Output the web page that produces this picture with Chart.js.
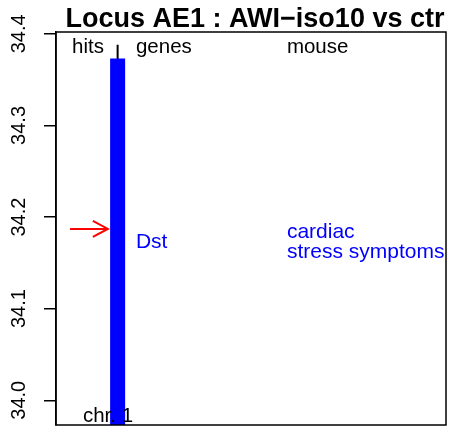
<!DOCTYPE html>
<html>
<head>
<meta charset="utf-8">
<script src="https://cdn.jsdelivr.net/npm/chart.js@4.4.1/dist/chart.umd.min.js"></script>
<style>
  html, body { margin: 0; padding: 0; background: #fff; }
  #locusChart { display: block; }
</style>
</head>
<body>
<canvas id="locusChart" width="451" height="429"></canvas>
<script>
// chart data
const titleText = 'Locus AE1 : AWI\u2212iso10 vs ctr';
const yTicks = [34.0, 34.1, 34.2, 34.3, 34.4];
const yRange = [33.973, 34.402];
const columnHeaders = ['hits', 'genes', 'mouse'];
const chromosomeLabel = 'chr. 1';
const locusSpan = [33.96, 34.388];
const hitPositions = [34.187];
const geneNames = ['Dst'];
const geneStarts = [33.96];
const geneEnds = [34.373];
const mousePhenotypes = [['cardiac', 'stress symptoms']];

// x positions of the columns (0..1 across the plot box)
const colX = { hits: 0.041, locus: 0.158, genes: 0.205, mouse: 0.592, chr: 0.069, arrowFrom: 0.036, arrowTo: 0.133 };
const FONT = '"Liberation Sans", Arial, sans-serif';

const geneDatasets = geneNames.map((name, i) => ({
  label: name,
  data: [{ x: colX.locus, y: geneStarts[i] }, { x: colX.locus, y: geneEnds[i] }],
  borderColor: '#0000ff',
  borderWidth: 15,
  borderCapStyle: 'butt',
  pointRadius: 0,
  order: 0
}));

const locusDataset = {
  label: chromosomeLabel,
  data: [{ x: colX.locus, y: locusSpan[0] }, { x: colX.locus, y: locusSpan[1] }],
  borderColor: '#000',
  borderWidth: 2,
  borderCapStyle: 'butt',
  pointRadius: 0,
  order: 1
};

const annotations = {
  id: 'annotations',
  afterDatasetsDraw(chart) {
    const { ctx, scales: { x, y }, chartArea } = chart;
    ctx.save();

    // plot box
    ctx.strokeStyle = '#000';
    ctx.lineWidth = 1.5;
    ctx.strokeRect(chartArea.left, chartArea.top, chartArea.right - chartArea.left, chartArea.bottom - chartArea.top);

    // chromosome label at the bottom, over the gene bar
    ctx.fillStyle = '#000';
    ctx.font = '20.5px ' + FONT;
    ctx.textBaseline = 'alphabetic';
    ctx.fillText(chromosomeLabel, x.getPixelForValue(colX.chr), chartArea.bottom - 3);

    // title
    ctx.font = 'bold 27px ' + FONT;
    ctx.textAlign = 'center';
    ctx.fillText(titleText, (chartArea.left + chartArea.right) / 2 + 4, 27);

    // y tick labels, rotated
    ctx.font = '20px ' + FONT;
    yTicks.forEach(v => {
      ctx.save();
      ctx.translate(25, y.getPixelForValue(v));
      ctx.rotate(-Math.PI / 2);
      ctx.textAlign = 'center';
      ctx.fillText(v.toFixed(1), 0, 0);
      ctx.restore();
    });

    // column headers
    ctx.textAlign = 'left';
    ctx.font = '20.5px ' + FONT;
    const headerX = [colX.hits, colX.genes, colX.mouse];
    columnHeaders.forEach((h, i) => ctx.fillText(h, x.getPixelForValue(headerX[i]), chartArea.top + 21));

    // hits: red arrows
    ctx.strokeStyle = '#ff0000';
    ctx.lineWidth = 2;
    hitPositions.forEach(v => {
      const py = y.getPixelForValue(v);
      const x0 = x.getPixelForValue(colX.arrowFrom);
      const x1 = x.getPixelForValue(colX.arrowTo);
      ctx.beginPath();
      ctx.moveTo(x0, py);
      ctx.lineTo(x1, py);
      ctx.moveTo(x1 - 15, py - 8);
      ctx.lineTo(x1, py);
      ctx.lineTo(x1 - 15, py + 8);
      ctx.stroke();
    });

    // gene names and mouse phenotypes at gene midpoints
    ctx.fillStyle = '#0000ff';
    ctx.font = '21px ' + FONT;
    ctx.textBaseline = 'middle';
    geneNames.forEach((name, i) => {
      const lo = Math.max(geneStarts[i], yRange[0]);
      const hi = Math.min(geneEnds[i], yRange[1]);
      const py = y.getPixelForValue((lo + hi) / 2);
      ctx.fillText(name, x.getPixelForValue(colX.genes), py);
      const lines = mousePhenotypes[i];
      const lh = 20;
      lines.forEach((t, k) => {
        ctx.fillText(t, x.getPixelForValue(colX.mouse), py + (k - (lines.length - 1) / 2) * lh);
      });
    });

    ctx.restore();
  }
};

new Chart(document.getElementById('locusChart'), {
  type: 'line',
  data: { datasets: [...geneDatasets, locusDataset] },
  options: {
    responsive: false,
    animation: false,
    layout: { padding: { top: 32, right: 5, bottom: 4, left: 0 } },
    plugins: { legend: { display: false }, title: { display: false }, tooltip: { enabled: false } },
    scales: {
      x: { type: 'linear', min: 0, max: 1, display: false },
      y: {
        type: 'linear',
        min: yRange[0],
        max: yRange[1],
        afterBuildTicks: scale => { scale.ticks = yTicks.map(v => ({ value: v })); },
        afterFit: scale => { scale.width = 56; },
        ticks: { display: false },
        grid: { drawOnChartArea: false, drawTicks: true, tickLength: 12, color: '#000', lineWidth: 1.5 },
        border: { display: true, color: '#000', width: 1.5 }
      }
    }
  },
  plugins: [annotations]
});
</script>
</body>
</html>
